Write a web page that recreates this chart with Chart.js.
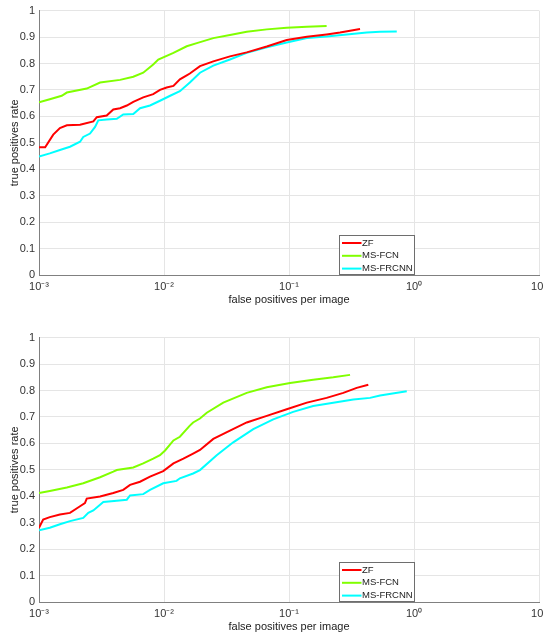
<!DOCTYPE html>
<html>
<head>
<meta charset="utf-8">
<script src="https://cdn.jsdelivr.net/npm/chart.js@4"></script>
<style>
html,body{margin:0;padding:0;background:#fff;overflow:hidden;width:543px;height:641px;}
canvas{position:absolute;left:0;}
#topChart{top:0;}
#bottomChart{top:327px;}
</style>
</head>
<body>
<canvas id="topChart" width="560" height="320"></canvas>
<canvas id="bottomChart" width="560" height="320"></canvas>
<script>
const seriesNames = ['ZF', 'MS-FCN', 'MS-FRCNN'];
const seriesColors = ['#ff0000', '#80ff00', '#00ffff'];

const xTicks = [0.001, 0.01, 0.1, 1, 10];
const xTickLabels = ['10\u207B\u00B3', '10\u207B\u00B2', '10\u207B\u00B9', '10\u2070', '10\u00B9'];
const yTicks = [0, 0.1, 0.2, 0.3, 0.4, 0.5, 0.6, 0.7, 0.8, 0.9, 1];
const yTickLabels = ['0', '0.1', '0.2', '0.3', '0.4', '0.5', '0.6', '0.7', '0.8', '0.9', '1'];

// top plot
const topZfFpr = [0.001, 0.00112, 0.00130, 0.00147, 0.00167, 0.00213, 0.00272, 0.00290, 0.00348, 0.00393, 0.00445, 0.00504, 0.00568, 0.00682, 0.00820, 0.00929, 0.0105, 0.0119, 0.0134, 0.0152, 0.0161, 0.0194, 0.0248, 0.0337, 0.0459, 0.0664, 0.0959, 0.139, 0.200, 0.256, 0.308, 0.370];
const topZfTpr = [0.483, 0.483, 0.531, 0.556, 0.566, 0.568, 0.581, 0.597, 0.603, 0.626, 0.631, 0.641, 0.655, 0.672, 0.684, 0.700, 0.709, 0.715, 0.740, 0.755, 0.762, 0.790, 0.808, 0.827, 0.842, 0.864, 0.889, 0.901, 0.910, 0.917, 0.924, 0.930];
const topFcnFpr = [0.001, 0.00122, 0.00152, 0.00167, 0.00241, 0.00308, 0.00445, 0.00568, 0.00682, 0.00820, 0.00900, 0.0119, 0.0152, 0.0183, 0.0248, 0.0337, 0.0459, 0.0664, 0.0959, 0.139, 0.200];
const topFcnTpr = [0.653, 0.665, 0.678, 0.690, 0.705, 0.728, 0.738, 0.750, 0.765, 0.796, 0.815, 0.840, 0.865, 0.877, 0.896, 0.908, 0.920, 0.929, 0.935, 0.939, 0.942];
const topFrcnnFpr = [0.001, 0.00122, 0.00147, 0.00177, 0.00213, 0.00226, 0.00256, 0.00281, 0.00298, 0.00348, 0.00419, 0.00472, 0.00568, 0.00643, 0.00773, 0.00929, 0.0112, 0.0134, 0.0161, 0.0194, 0.0248, 0.0337, 0.0459, 0.0664, 0.0959, 0.139, 0.200, 0.290, 0.419, 0.535, 0.728];
const topFrcnnTpr = [0.448, 0.460, 0.473, 0.485, 0.504, 0.522, 0.535, 0.560, 0.585, 0.588, 0.591, 0.607, 0.609, 0.631, 0.641, 0.659, 0.678, 0.695, 0.728, 0.765, 0.792, 0.815, 0.840, 0.861, 0.879, 0.896, 0.902, 0.910, 0.917, 0.920, 0.921];

// bottom plot
const botZfFpr = [0.001, 0.00108, 0.00122, 0.00147, 0.00177, 0.00213, 0.00233, 0.00241, 0.00308, 0.00393, 0.00472, 0.00535, 0.00643, 0.00773, 0.00986, 0.0119, 0.0143, 0.0171, 0.0194, 0.0248, 0.0337, 0.0459, 0.0664, 0.0959, 0.139, 0.200, 0.272, 0.348, 0.431];
const botZfTpr = [0.281, 0.312, 0.321, 0.331, 0.337, 0.362, 0.374, 0.391, 0.399, 0.412, 0.424, 0.443, 0.455, 0.474, 0.495, 0.524, 0.542, 0.561, 0.575, 0.617, 0.648, 0.679, 0.704, 0.729, 0.754, 0.772, 0.791, 0.810, 0.822];
const botFcnFpr = [0.001, 0.00122, 0.00167, 0.00226, 0.00308, 0.00393, 0.00419, 0.00568, 0.00682, 0.00820, 0.00929, 0.0102, 0.0119, 0.0134, 0.0161, 0.0171, 0.0194, 0.0220, 0.0298, 0.0459, 0.0664, 0.102, 0.156, 0.226, 0.308];
const botFcnTpr = [0.412, 0.420, 0.433, 0.449, 0.472, 0.493, 0.499, 0.509, 0.524, 0.542, 0.555, 0.573, 0.611, 0.625, 0.667, 0.679, 0.694, 0.716, 0.754, 0.791, 0.812, 0.828, 0.841, 0.850, 0.859];
const botFrcnnFpr = [0.001, 0.00122, 0.00147, 0.00177, 0.00226, 0.00248, 0.00272, 0.00308, 0.00327, 0.00419, 0.00504, 0.00535, 0.00682, 0.00773, 0.00986, 0.0126, 0.0134, 0.0171, 0.0194, 0.0264, 0.0358, 0.0518, 0.0748, 0.108, 0.156, 0.226, 0.327, 0.445, 0.535, 0.875];
const botFrcnnTpr = [0.271, 0.281, 0.294, 0.306, 0.318, 0.337, 0.346, 0.368, 0.378, 0.383, 0.387, 0.403, 0.408, 0.424, 0.449, 0.458, 0.468, 0.486, 0.499, 0.555, 0.604, 0.654, 0.691, 0.719, 0.741, 0.754, 0.766, 0.772, 0.781, 0.797];

Chart.defaults.font.family = '"Liberation Sans", Arial, sans-serif';

// matlab-like legend box, lower right part of the axes
const legendBox = {
    id: 'legendBox',
    afterDatasetsDraw(chart){
        const ctx = chart.ctx, a = chart.chartArea;
        const x = a.left + 300.5, y = a.bottom - 39.5, w = 75, h = 39;
        ctx.save();
        ctx.fillStyle = '#fff';
        ctx.fillRect(x, y, w, h);
        ctx.strokeStyle = '#6e6e6e';
        ctx.lineWidth = 1;
        ctx.strokeRect(x, y, w, h);
        ctx.font = '9.5px "Liberation Sans", Arial, sans-serif';
        ctx.textBaseline = 'middle';
        chart.data.datasets.forEach((ds, i) => {
            const ry = y + 7.5 + i*12.8;
            ctx.strokeStyle = ds.borderColor;
            ctx.lineWidth = 2;
            ctx.beginPath();
            ctx.moveTo(x + 2.5, ry);
            ctx.lineTo(x + 22, ry);
            ctx.stroke();
            ctx.fillStyle = '#222';
            ctx.fillText(ds.label, x + 22.5, ry);
        });
        ctx.restore();
    }
};

function buildChart(id, fprs, tprs){
    return new Chart(document.getElementById(id), {
        type: 'line',
        data: {
            datasets: seriesNames.map((name, i) => ({
                label: name,
                data: fprs[i].map((x, j) => ({x: x, y: tprs[i][j]})),
                borderColor: seriesColors[i],
                backgroundColor: seriesColors[i],
                borderWidth: 2,
                pointRadius: 0,
                tension: 0,
                fill: false
            }))
        },
        options: {
            responsive: false,
            animation: false,
            devicePixelRatio: 1,
            layout: {padding: {top: 7, right: 21, left: 0, bottom: 0}},
            plugins: {legend: {display: false}, tooltip: {enabled: false}},
            scales: {
                x: {
                    type: 'logarithmic', min: 0.001, max: 10,
                    afterBuildTicks: s => { s.ticks = xTicks.map(v => ({value: v})); },
                    afterFit: s => { s.height = 45; },
                    ticks: {autoSkip: false, maxRotation: 0, padding: 5, color: '#333', font: {size: 11},
                            callback: (v, i) => xTickLabels[i]},
                    grid: {color: '#e5e5e5', drawTicks: false},
                    border: {color: '#808080'},
                    title: {display: true, text: 'false positives per image', color: '#222',
                            font: {size: 11}, padding: {top: 0, bottom: 13}}
                },
                y: {
                    min: 0, max: 1,
                    afterBuildTicks: s => { s.ticks = yTicks.map(v => ({value: v})); },
                    afterFit: s => { s.width = 39; },
                    ticks: {padding: 4, color: '#333', font: {size: 11},
                            callback: (v, i) => yTickLabels[i]},
                    grid: {color: '#e5e5e5', drawTicks: false},
                    border: {color: '#808080'},
                    title: {display: true, text: 'true positives rate', color: '#222',
                            font: {size: 11}, padding: {top: 8, bottom: 0}}
                }
            }
        },
        plugins: [legendBox]
    });
}

buildChart('topChart', [topZfFpr, topFcnFpr, topFrcnnFpr], [topZfTpr, topFcnTpr, topFrcnnTpr]);
buildChart('bottomChart', [botZfFpr, botFcnFpr, botFrcnnFpr], [botZfTpr, botFcnTpr, botFrcnnTpr]);
</script>
</body>
</html>
